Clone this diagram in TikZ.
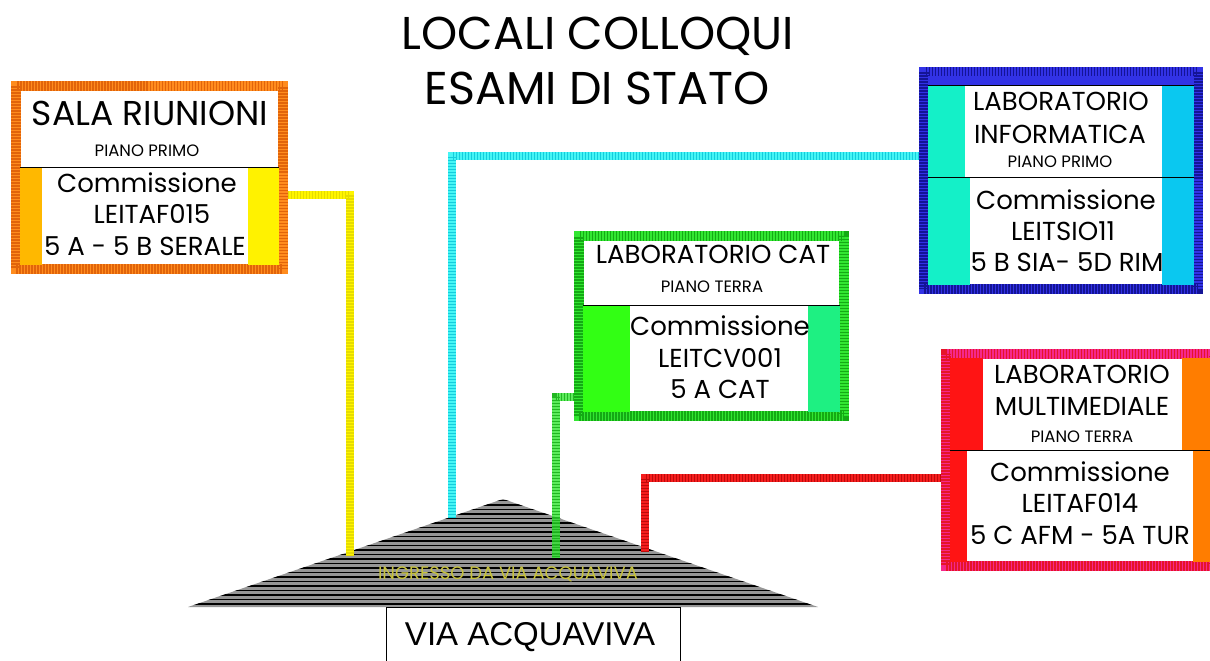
\documentclass[tikz,border=0pt]{standalone}
\usepackage{fontspec}
\setmainfont{Poppins}
\newfontfamily\arialf{Liberation Sans}
\definecolor{bOrange}{RGB}{255,140,30}
\definecolor{sOrange}{RGB}{225,100,10}
\definecolor{stOrange}{RGB}{255,184,0}
\definecolor{bBlue}{RGB}{50,50,230}
\definecolor{sBlue}{RGB}{20,20,150}
\definecolor{stTeal}{RGB}{20,240,200}
\definecolor{stSky}{RGB}{10,200,240}
\definecolor{bGreen}{RGB}{50,230,50}
\definecolor{sGreen}{RGB}{20,170,20}
\definecolor{stGreen}{RGB}{50,255,20}
\definecolor{stSpring}{RGB}{30,240,130}
\definecolor{bPink}{RGB}{245,40,140}
\definecolor{sPink}{RGB}{230,20,40}
\definecolor{stRed}{RGB}{255,20,20}
\definecolor{stOr}{RGB}{255,125,0}
\definecolor{cYellow}{RGB}{255,245,0}
\definecolor{sYellow}{RGB}{230,220,0}
\definecolor{cCyan}{RGB}{70,245,245}
\definecolor{sCyan}{RGB}{20,205,220}
\definecolor{cRed}{RGB}{245,30,30}
\definecolor{sRed}{RGB}{190,10,10}
\definecolor{ingr}{RGB}{200,195,60}
\definecolor{trigray}{RGB}{150,150,150}
\begin{document}
\begin{tikzpicture}[x=1pt,y=-1pt,
  every node/.style={inner sep=0pt, text=black},
  hb/.style 2 args={line width=9.5pt, outer sep=0pt, draw=#1, preaction={fill=white},
     postaction={draw=#2, line width=9.5pt, dash pattern=on 1.5pt off 1.5pt}},
  conn/.style 2 args={line width=8pt, draw=#1,
     postaction={draw=#2, line width=8pt, dash pattern=on 1.5pt off 1.5pt}},
  divl/.style={line width=0.8pt, draw=black},
  ttl/.style={font=\fontsize{46}{52}\selectfont},
  head/.style={font=\fontsize{30}{34}\selectfont},
  floor/.style={font=\fontsize{16.5}{19}\selectfont},
  body/.style={font=\fontsize{26}{30}\selectfont}]
\useasboundingbox (0,0) rectangle (1210,661);
\fill[white] (0,0) rectangle (1210,661);

% title
\node[ttl] (t1) at (598,36) {LOCALI COLLOQUI};
\node[ttl] (t2) at (597,88) {ESAMI DI STATO};

% triangle (entrance)
\coordinate (tl) at (188,607);
\coordinate (ta) at (503,499);
\coordinate (tr) at (818,607);
\begin{scope}
  \clip (tl) -- (ta) -- (tr) -- cycle;
  \fill[trigray] (180,495) rectangle (830,610);
  \foreach \y in {500.5,505,...,608} \draw[line width=1.8pt] (180,\y) -- (830,\y);
\end{scope}
\node[text=ingr, font=\fontsize{18}{20}\selectfont] (ingresso) at (508,574) {INGRESSO DA VIA ACQUAVIVA};

% boxes
\node[hb={bOrange}{sOrange}, minimum width=267pt, minimum height=183pt, anchor=north west] (sala) at (16,86) {};
\node[hb={bBlue}{sBlue}, minimum width=274pt, minimum height=217pt, anchor=north west] (info) at (924,72) {};
\node[hb={bGreen}{sGreen}, minimum width=265pt, minimum height=180pt, anchor=north west] (cat) at (579,236) {};
\node[hb={bPink}{sPink}, minimum width=268pt, minimum height=212pt, anchor=north west] (multi) at (946,354) {};

% strips sala
\fill[stOrange] (20,167) rectangle (42,265);
\fill[yellow] (248,167) rectangle (279,265);
\draw[divl] (20,167) -- (279,167);
% strips info
\fill[bBlue] (928,76) rectangle (1194,85);
\fill[stTeal] (928,85) rectangle (965,177);
\fill[stTeal] (928,177) rectangle (970,285);
\fill[stSky] (1162,85) rectangle (1194,285);
\draw[divl] (928,85) -- (1194,85);
\draw[divl] (928,177) -- (1194,177);
% strips cat
\fill[stGreen] (583,305) rectangle (630,412);
\fill[stSpring] (808,305) rectangle (840,412);
\draw[divl] (583,305) -- (840,305);
% strips multi
\fill[stRed] (950,358) rectangle (983,450);
\fill[stRed] (950,450) rectangle (967,562);
\fill[stOr] (1182,358) rectangle (1210,450);
\fill[stOr] (1193,450) rectangle (1210,562);
\draw[divl] (950,450) -- (1210,450);

% texts sala
\node[head, font=\fontsize{34.5}{38}\selectfont] (s1) at (150,113) {SALA RIUNIONI};
\node[floor] (s2) at (147,151) {PIANO PRIMO};
\node[body] (s3) at (147,183) {Commissione};
\node[body] (s4) at (152,214) {LEITAF015};
\node[body] (s5) at (145,246) {5 A - 5 B SERALE};
% texts info
\node[body] (i1) at (1061,101) {LABORATORIO};
\node[body] (i2) at (1060,134) {INFORMATICA};
\node[floor] (i3) at (1060,162) {PIANO PRIMO};
\node[body] (i4) at (1066,200) {Commissione};
\node[body] (i5) at (1063,231) {LEITSIO11};
\node[body] (i6) at (1067,262) {5 B SIA- 5D RIM};
% texts cat
\node[body] (c1) at (713,254) {LABORATORIO CAT};
\node[floor] (c2) at (712,287) {PIANO TERRA};
\node[body] (c3) at (720,326) {Commissione};
\node[body] (c4) at (720,358) {LEITCV001};
\node[body] (c5) at (720,389) {5 A CAT};
% texts multi
\node[body] (m1) at (1082,374) {LABORATORIO};
\node[body] (m2) at (1082,407) {MULTIMEDIALE};
\node[floor] (m3) at (1082,437) {PIANO TERRA};
\node[body] (m4) at (1080,472) {Commissione};
\node[body] (m5) at (1080,503) {LEITAF014};
\node[body] (m6) at (1080,535) {5 C AFM - 5A TUR};

% connectors
\coordinate (ye) at (350,556);
\coordinate (ce) at (452,517);
\coordinate (ge) at (556,558);
\coordinate (re) at (645,552);
\draw[conn={cYellow}{sYellow}] ([xshift=4.75pt,yshift=-17pt]sala.east) -| (ye);
\draw[conn={cCyan}{sCyan}] ([xshift=-4.75pt,yshift=24.5pt]info.west) -| (ce);
\draw[conn={bGreen}{sGreen}, opacity=0.8] ([xshift=-4.75pt,yshift=-71pt]cat.west) -| (ge);
\draw[conn={cRed}{sRed}] ([xshift=-4.75pt,yshift=-18pt]multi.west) -| (re);

% street
\node[draw, line width=1pt, minimum width=294pt, minimum height=62pt, anchor=north, fill=white] (via) at (533,607) {};
\node[font=\arialf\fontsize{33}{38}\selectfont] (vialabel) at (530,637) {VIA ACQUAVIVA};
\end{tikzpicture}
\end{document}
